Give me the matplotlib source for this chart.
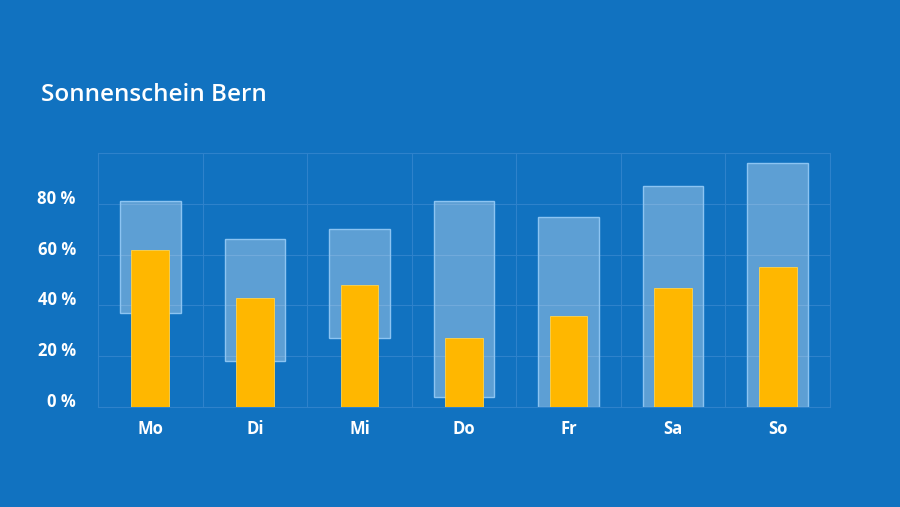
import matplotlib
matplotlib.use("Agg")
import matplotlib.pyplot as plt
import numpy as np

days = ["Mo", "Di", "Mi", "Do", "Fr", "Sa", "So"]
range_low = [37, 18, 27, 4, 0, 0, 0]
range_high = [81, 66, 70, 81, 75, 87, 96]
sunshine = [62, 43, 48, 27, 36, 47, 55]

bg = "#1172c0"
grid_col = "#2e82cb"

fig = plt.figure(figsize=(9, 5.07), dpi=100, facecolor=bg)
ax = fig.add_axes([0.1089, 0.1972, 0.8133, 0.501], facecolor=bg)

x = np.arange(len(days))
low = np.array(range_low)
high = np.array(range_high)
ax.bar(x, high - low, bottom=low, width=0.58, color="#ffffff", alpha=0.32,
       edgecolor="none", zorder=2)
ax.bar(x, high - low, bottom=low, width=0.58, color="none",
       edgecolor="#8cc4f2", linewidth=1.0, zorder=2)
ax.bar(x, sunshine, width=0.36, color="#ffb700", edgecolor="#ffd34d",
       linewidth=0.6, zorder=3)

ax.set_xlim(-0.5, len(days) - 0.5)
ax.set_ylim(0, 100)
ax.set_yticks([0, 20, 40, 60, 80])
ax.set_yticklabels([f"{v} %" for v in [0, 20, 40, 60, 80]])
ax.set_yticks([100], minor=True)
ax.set_xticks(x)
ax.set_xticklabels(days)
ax.set_xticks(np.arange(-0.5, len(days)), minor=True)

ax.grid(True, axis="y", which="both", color=grid_col, linewidth=0.8, zorder=0)
ax.grid(True, axis="x", which="minor", color=grid_col, linewidth=0.8, zorder=0)
ax.tick_params(which="both", length=0)
ax.tick_params(axis="y", pad=16, labelsize=12, labelcolor="white")
ax.tick_params(axis="x", pad=9, labelsize=12, labelcolor="white")
for lab in ax.get_xticklabels() + ax.get_yticklabels():
    lab.set_fontweight("bold")
    lab.set_fontfamily("Open Sans")
for lab in ax.get_yticklabels():
    lab.set_verticalalignment("baseline")

for s in ax.spines.values():
    s.set_color(grid_col)
    s.set_linewidth(0.8)

fig.text(0.046, 0.812, "Sonnenschein Bern", color="white", fontsize=17.5,
         fontfamily="Open Sans", fontweight="semibold", va="center", ha="left")

fig.savefig("out.png", dpi=100, facecolor=bg)
